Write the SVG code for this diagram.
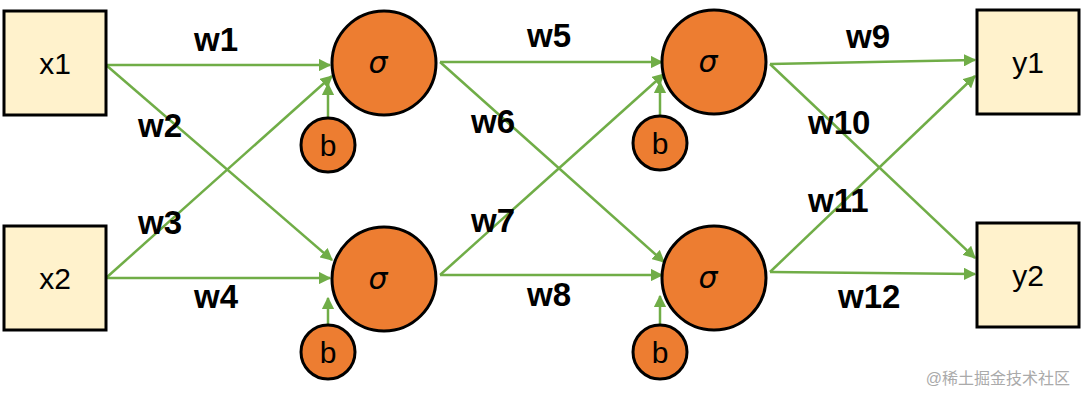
<svg xmlns="http://www.w3.org/2000/svg" width="1083" height="400" viewBox="0 0 1083 400">
<style>
.box{fill:#fff2cc;stroke:#000;stroke-width:3}
.n{fill:#ed7d31;stroke:#000;stroke-width:3}
.t{font-family:"Liberation Sans",Arial,sans-serif;font-size:30px;fill:#000}
.s{font-family:"DejaVu Sans",sans-serif;font-style:italic;font-size:30px}
.w{font-family:"Liberation Sans",Arial,sans-serif;font-size:33px;font-weight:bold}
.c line{stroke:#70ad47;stroke-width:2.5;marker-end:url(#a)}
</style>
<defs><marker id="a" viewBox="0 0 10 10" refX="9" refY="5" markerWidth="5" markerHeight="5" orient="auto"><path d="M0,0L10,5L0,10z" fill="#70ad47"/></marker></defs>
<rect width="1083" height="400" fill="#fff"/>
<g class="c">
<line x1="106" y1="65" x2="330" y2="65"/>
<line x1="106" y1="65" x2="332" y2="260"/>
<line x1="106" y1="278" x2="332" y2="76"/>
<line x1="106" y1="278" x2="330" y2="278"/>
<line x1="440" y1="62" x2="662" y2="62"/>
<line x1="440" y1="62" x2="664" y2="262"/>
<line x1="440" y1="275" x2="664" y2="74"/>
<line x1="440" y1="275" x2="662" y2="275"/>
<line x1="770" y1="64" x2="975" y2="60"/>
<line x1="770" y1="64" x2="975" y2="258"/>
<line x1="770" y1="272" x2="975" y2="76"/>
<line x1="770" y1="272" x2="975" y2="274"/>
<line x1="328" y1="118" x2="328" y2="84"/>
<line x1="328" y1="325" x2="328" y2="298"/>
<line x1="660" y1="116" x2="660" y2="82"/>
<line x1="660" y1="325" x2="660" y2="296"/>
</g>
<g id="x1"><rect class="box" x="4" y="11" width="102" height="104"/><text class="t" x="55" y="74" text-anchor="middle">x1</text></g>
<g id="x2"><rect class="box" x="4" y="226" width="102" height="104"/><text class="t" x="55" y="289" text-anchor="middle">x2</text></g>
<g id="y1"><rect class="box" x="977" y="10" width="102" height="104"/><text class="t" x="1028" y="73" text-anchor="middle">y1</text></g>
<g id="y2"><rect class="box" x="977" y="223" width="102" height="104"/><text class="t" x="1028" y="286" text-anchor="middle">y2</text></g>
<g id="h1"><circle class="n" cx="384" cy="63" r="52"/><text class="s" x="378" y="73" text-anchor="middle">σ</text></g>
<g id="h2"><circle class="n" cx="384" cy="279" r="52"/><text class="s" x="378" y="289" text-anchor="middle">σ</text></g>
<g id="h3"><circle class="n" cx="714" cy="62" r="52"/><text class="s" x="708" y="72" text-anchor="middle">σ</text></g>
<g id="h4"><circle class="n" cx="714" cy="278" r="52"/><text class="s" x="708" y="288" text-anchor="middle">σ</text></g>
<g id="b1"><circle class="n" cx="328" cy="145" r="27"/><text class="t" x="328" y="156" text-anchor="middle">b</text></g>
<g id="b2"><circle class="n" cx="328" cy="352" r="27"/><text class="t" x="328" y="363" text-anchor="middle">b</text></g>
<g id="b3"><circle class="n" cx="660" cy="143" r="27"/><text class="t" x="660" y="154" text-anchor="middle">b</text></g>
<g id="b4"><circle class="n" cx="660" cy="352" r="27"/><text class="t" x="660" y="363" text-anchor="middle">b</text></g>
<g id="labels">
<text class="w" x="194" y="51">w1</text>
<text class="w" x="138" y="137">w2</text>
<text class="w" x="138" y="234">w3</text>
<text class="w" x="194" y="308">w4</text>
<text class="w" x="527" y="47">w5</text>
<text class="w" x="471" y="133">w6</text>
<text class="w" x="471" y="232">w7</text>
<text class="w" x="527" y="306">w8</text>
<text class="w" x="846" y="48">w9</text>
<text class="w" x="808" y="134">w10</text>
<text class="w" x="808" y="212">w11</text>
<text class="w" x="838" y="308">w12</text>
</g>
<text x="1070" y="384" text-anchor="end" font-family="'Liberation Sans','Noto Sans CJK SC',sans-serif" font-size="16" fill="#aaa">@稀土掘金技术社区</text>
</svg>
